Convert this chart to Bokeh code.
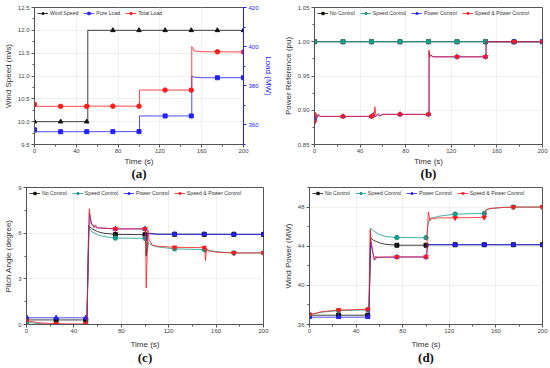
import numpy as np
from bokeh.plotting import figure
from bokeh.models import Range1d, LinearAxis, SingleIntervalTicker, FixedTicker, PrintfTickFormatter
from bokeh.layouts import row, column
from bokeh.embed import file_html
from bokeh.resources import INLINE

# ---------------- data ----------------
marker_t = [0, 25, 50, 75, 100, 125, 150, 175, 200]

# (a) wind speed (m/s) and loads (MW)
wind_t = [0, 51, 51, 200]
wind_v = [10.0, 10.0, 12.0, 12.0]
pure_t = [0, 1, 2, 100.5, 100.5, 150.5, 150.5, 153, 160, 200]
pure_v = [357.5, 356.2, 356.5, 356.6, 364.6, 364.6, 384.8, 384.4, 384.1, 384.1]
total_t = [0, 1, 2, 51, 52, 53, 100.5, 100.5, 150.5, 150.5, 153, 160, 200]
total_v = [370.5, 369.3, 369.5, 369.5, 370.0, 369.6, 369.6, 377.8, 377.8, 400.0, 397.8, 397.4, 397.3]

# (b) power reference (pu)
b_none_t = [0, 200]
b_none_v = [1.0, 1.0]
b_speed_t = [0, 200]
b_speed_v = [1.0, 1.0]
b_power_t = [0, 1, 2, 3, 5, 50, 51, 52, 53, 55, 57, 60, 100.5, 100.5, 101, 102, 104, 150.5, 150.5, 200]
b_power_v = [0.888, 0.896, 0.889, 0.893, 0.891, 0.891, 0.891, 0.897, 0.890, 0.894, 0.892, 0.894, 0.894,
             0.985, 0.978, 0.980, 0.978, 0.978, 1.0, 1.0]
b_sp_t = [0, 1, 2, 3, 5, 50, 51, 52, 53, 54, 56, 58, 60, 100.5, 100.5, 101, 102, 104, 150.5, 150.5, 200]
b_sp_v = [0.883, 0.897, 0.888, 0.894, 0.891, 0.891, 0.896, 0.889, 0.905, 0.891, 0.895, 0.892, 0.894, 0.894,
          0.988, 0.977, 0.981, 0.978, 0.978, 1.0, 1.0]

# (c) pitch angle (degree)
c_none_t = [0, 51, 52.5, 55, 60, 65, 75, 100.5, 101, 102, 104, 110, 200]
c_none_v = [0.3, 0.3, 6.5, 6.3, 6.1, 6.0, 5.92, 5.9, 4.5, 5.9, 6.0, 5.93, 5.92]
c_speed_t = [0, 5, 15, 25, 51, 52.5, 55, 60, 65, 75, 100.5, 101, 102, 103, 105, 110, 125, 150.5, 151,
             152, 155, 165, 175, 200]
c_speed_v = [0.15, 0.1, 0.03, 0.0, 0.0, 6.4, 6.1, 5.9, 5.78, 5.68, 5.66, 5.2, 4.8, 5.4, 5.25, 5.1, 4.97,
             4.92, 4.7, 4.95, 4.85, 4.75, 4.7, 4.7]
c_power_t = [0, 1, 51, 53, 55, 57, 60, 75, 100.5, 101, 102, 104, 110, 200]
c_power_v = [0.5, 0.44, 0.44, 7.3, 6.6, 6.45, 6.35, 6.28, 6.28, 5.5, 6.0, 5.95, 5.93, 5.92]
c_sp_t = [0, 10, 25, 51, 53, 54.5, 56, 57, 58, 60, 75, 100.5, 101, 102.5, 103.5, 105, 106, 110, 125,
          150.5, 151, 152, 153, 160, 175, 200]
c_sp_v = [0.25, 0.12, 0.05, 0.03, 7.6, 6.6, 6.5, 6.35, 6.55, 6.35, 6.28, 6.28, 2.4, 6.2, 5.5, 5.4, 5.2,
          5.15, 5.07, 5.05, 4.2, 5.0, 4.85, 4.75, 4.7, 4.7]

# (d) wind power (MW)
d_none_t = [0, 51, 52.5, 55, 60, 65, 75, 100.5, 101.5, 200]
d_none_v = [36.95, 36.95, 44.85, 44.6, 44.35, 44.2, 44.1, 44.1, 44.15, 44.15]
d_speed_t = [0, 10, 25, 51, 52.5, 55, 60, 65, 75, 100.5, 101.5, 103, 105, 110, 125, 150.5, 151.5, 155,
             165, 175, 200]
d_speed_v = [37.0, 37.25, 37.42, 37.5, 45.85, 45.55, 45.2, 45.0, 44.88, 44.87, 46.0, 46.8, 46.85, 47.05,
             47.28, 47.35, 47.75, 47.85, 47.95, 48.0, 48.0]
d_power_t = [0, 51, 52.5, 54, 56, 58, 60, 75, 100.5, 101.5, 102, 200]
d_power_v = [36.75, 36.75, 44.4, 43.5, 42.6, 42.9, 42.85, 42.9, 42.9, 44.2, 44.15, 44.15]
d_sp_t = [0, 10, 25, 51, 52, 53, 55.5, 57, 58, 60, 75, 100.5, 101, 102, 103.5, 105, 107, 110, 125, 150.5,
          151.5, 155, 165, 175, 200]
d_sp_v = [37.0, 37.3, 37.48, 37.55, 45.7, 44.5, 42.6, 43.0, 42.8, 42.9, 42.9, 42.9, 45.0, 47.5, 46.6, 46.9,
          46.8, 46.9, 46.9, 46.95, 47.7, 47.85, 47.95, 48.0, 48.0]

series_names = ["No Control", "Speed Control", "Power Control", "Speed & Power Control"]

# ---------------- styling ----------------
BLACK = "#111111"
TEAL = "#1b9a8c"
BLUE = "#2020ff"
RED = "#ff1a1a"
AX = "#555555"
TXT = "#444444"
FONT = "Liberation Sans"


def style_axis(ax, color=AX, label_color="#333333", tick_color=TXT):
    ax.axis_line_color = color
    ax.major_tick_line_color = color
    ax.minor_tick_line_color = color
    ax.major_tick_in = 0
    ax.major_tick_out = 3
    ax.minor_tick_in = 0
    ax.minor_tick_out = 2
    ax.major_label_text_font = FONT
    ax.major_label_text_font_size = "6px"
    ax.major_label_text_color = tick_color
    ax.major_label_standoff = 2
    ax.axis_label_text_font = FONT
    ax.axis_label_text_font_size = "8px"
    ax.axis_label_text_font_style = "normal"
    ax.axis_label_text_color = label_color
    ax.axis_label_standoff = 2


def style(p, yint, ylabel, caption, yfmt=None, time_gap=1, cap_gap=-3):
    p.xaxis.ticker = SingleIntervalTicker(interval=40, num_minor_ticks=2)
    p.yaxis.ticker = SingleIntervalTicker(interval=yint, num_minor_ticks=2)
    if yfmt:
        p.yaxis.formatter = PrintfTickFormatter(format=yfmt)
    for ax in p.axis:
        style_axis(ax)
    p.xaxis.major_label_standoff = 1
    p.xaxis.axis_label_standoff = time_gap
    p.xaxis.axis_label = "Time (s)"
    p.yaxis.axis_label = ylabel
    p.grid.grid_line_color = "#efefef"
    p.outline_line_color = AX
    p.background_fill_color = "white"
    # caption drawn as the label of a bare extra axis below the time axis
    cap = LinearAxis(ticker=FixedTicker(ticks=[]), axis_label=caption, axis_line_color=None,
                     major_tick_line_color=None, minor_tick_line_color=None,
                     major_label_text_font_size="0px", major_tick_out=0, minor_tick_out=0,
                     major_label_standoff=0, axis_label_standoff=cap_gap,
                     axis_label_text_font="Liberation Serif", axis_label_text_font_size="13px",
                     axis_label_text_font_style="bold", axis_label_text_color="#111111")
    p.add_layout(cap, "below")


def legend_style(p):
    lg = p.legend[0]
    lg.location = "top_left"
    lg.orientation = "horizontal"
    lg.label_text_font = FONT
    lg.label_text_font_size = "5.2px"
    lg.label_text_color = "#333333"
    lg.glyph_width = 11
    lg.glyph_height = 6
    lg.label_height = 6
    lg.label_standoff = 2
    lg.spacing = 5
    lg.padding = 1
    lg.margin = 3
    lg.border_line_color = None
    lg.background_fill_alpha = 0


def add_series(p, t, v, color, marker, label, y_range_name="default", msize=4.5):
    p.line(t, v, color=color, line_width=1, line_alpha=0.8, legend_label=label,
           y_range_name=y_range_name)
    mv = np.interp(marker_t, t, v)
    p.scatter(marker_t, mv, marker=marker, size=msize, color=color, legend_label=label,
              y_range_name=y_range_name)


def common():
    return dict(output_backend="svg", toolbar_location=None, x_range=Range1d(0, 200))


# (a)
pa = figure(width=275, height=184, y_range=Range1d(9.5, 12.5), min_border_left=34, min_border_right=32,
            min_border_top=7, min_border_bottom=40, **common())
pa.extra_y_ranges = {"load": Range1d(350, 420)}
style(pa, 0.5, "Wind Speed (m/s)", "(a)", "%.1f")
rax = LinearAxis(y_range_name="load", axis_label="Load (MW)",
                 ticker=SingleIntervalTicker(interval=20, num_minor_ticks=2))
style_axis(rax, BLUE, BLUE, BLUE)
pa.add_layout(rax, "right")
add_series(pa, wind_t, wind_v, BLACK, "triangle", "Wind Speed")
add_series(pa, pure_t, pure_v, BLUE, "square", "Pure Load", "load", 4)
add_series(pa, total_t, total_v, RED, "circle", "Total Load", "load")
legend_style(pa)

# (b)
pb = figure(width=275, height=184, y_range=Range1d(0.85, 1.05), min_border_left=39, min_border_right=8,
            min_border_top=7, min_border_bottom=40, **common())
style(pb, 0.05, "Power Reference (pu)", "(b)", "%.2f")
add_series(pb, b_none_t, b_none_v, BLACK, "square", series_names[0], msize=4)
add_series(pb, b_speed_t, b_speed_v, TEAL, "circle", series_names[1])
add_series(pb, b_power_t, b_power_v, BLUE, "triangle", series_names[2])
add_series(pb, b_sp_t, b_sp_v, RED, "inverted_triangle", series_names[3])
legend_style(pb)

# (c)
pc = figure(width=275, height=184, y_range=Range1d(0, 9), min_border_left=26, min_border_right=12,
            min_border_top=3, min_border_bottom=44, **common())
style(pc, 3, "Pitch Angle (degree)", "(c)", time_gap=4, cap_gap=-2)
add_series(pc, c_none_t, c_none_v, BLACK, "square", series_names[0], msize=4)
add_series(pc, c_speed_t, c_speed_v, TEAL, "circle", series_names[1])
add_series(pc, c_power_t, c_power_v, BLUE, "triangle", series_names[2])
add_series(pc, c_sp_t, c_sp_v, RED, "inverted_triangle", series_names[3])
legend_style(pc)

# (d)
pd_ = figure(width=275, height=184, y_range=Range1d(36, 50), min_border_left=34, min_border_right=8,
             min_border_top=3, min_border_bottom=44, **common())
style(pd_, 4, "Wind Power (MW)", "(d)", time_gap=4, cap_gap=-2)
add_series(pd_, d_none_t, d_none_v, BLACK, "square", series_names[0], msize=4)
add_series(pd_, d_speed_t, d_speed_v, TEAL, "circle", series_names[1])
add_series(pd_, d_power_t, d_power_v, BLUE, "triangle", series_names[2])
add_series(pd_, d_sp_t, d_sp_v, RED, "inverted_triangle", series_names[3])
legend_style(pd_)

layout = column(row(pa, pb), row(pc, pd_))

open("out.html", "w").write(file_html(layout, INLINE))
